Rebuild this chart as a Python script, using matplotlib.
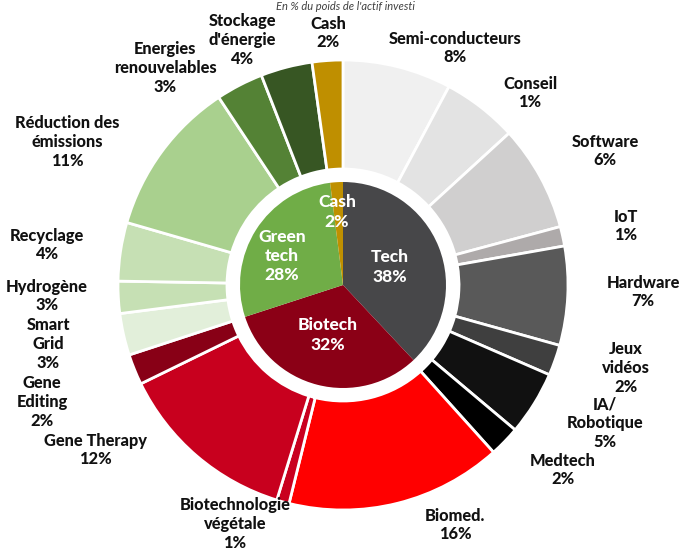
import matplotlib
matplotlib.use("Agg")
import matplotlib.pyplot as plt

# inner ring: sectors (clockwise from 12 o'clock)
sector_names = ["Tech", "Biotech", "Green\ntech", "Cash"]
sector_values = [38, 32, 28, 2]
sector_colors = ["#474749", "#8b0016", "#70ad47", "#bf9000"]

# outer ring: sub-themes, arc sizes (in %)
theme_names = [
    "Semi-conducteurs", "Conseil", "Software", "IoT", "Hardware", "Jeux\nvidéos",
    "IA/\nRobotique", "Medtech",
    "Biomed.", "Biotechnologie\nvégétale", "Gene Therapy", "Gene\nEditing",
    "Smart\nGrid", "Hydrogène", "Recyclage", "Réduction des\némissions",
    "Energies\nrenouvelables", "Stockage\nd'énergie", "Cash",
]
theme_sizes = [7.8, 5.4, 7.6, 1.4, 7.1, 2.2, 4.6, 2.2,
               15.5, 0.9, 13.0, 2.2,
               3.0, 2.3, 4.2, 11.2, 3.4, 3.7, 2.2]
# percentages as printed on the chart
theme_labels = ["8%", "1%", "6%", "1%", "7%", "2%", "5%", "2%",
                "16%", "1%", "12%", "2%",
                "3%", "3%", "4%", "11%", "3%", "4%", "2%"]
theme_colors = ["#f0f0f0", "#e3e3e3", "#d0cfcf", "#aeaaaa", "#595959", "#3f3f3f",
                "#111111", "#000000",
                "#ff0000", "#c9001f", "#c8001e", "#880016",
                "#e2efda", "#c6e0b4", "#c6e0b4", "#a9d08e", "#548235", "#375623",
                "#bf8f00"]

# label layout (pixel positions, y from top)
theme_pos = [(455, 48), (530, 93), (605, 151), (626, 226), (643, 292), (626, 368),
             (605, 423), (563, 470),
             (455, 525), (235, 524), (95, 450), (42, 402),
             (48, 344), (47, 296), (47, 245), (67, 142), (165, 68), (242, 40), (328, 33)]
sector_pos = [(390, 267), (328, 335), (282, 256), (337, 212)]

W, H = 683, 553
cx, cy = 343, H - 285
r_out, r_ring_in, r_in = 225, 116, 103

plt.rcParams["font.family"] = ["Lato", "DejaVu Sans"]

fig = plt.figure(figsize=(W / 100, H / 100), dpi=100)
ax = fig.add_axes([0, 0, 1, 1])

ax.pie(theme_sizes, radius=r_out, center=(cx, cy), startangle=90, counterclock=False,
       colors=theme_colors,
       wedgeprops=dict(width=r_out - r_ring_in, edgecolor="white", linewidth=2))
ax.pie(sector_values, radius=r_in, center=(cx, cy), startangle=90, counterclock=False,
       colors=sector_colors, wedgeprops=dict(linewidth=0))

for name, lab, (x, y) in zip(theme_names, theme_labels, theme_pos):
    ax.text(x, H - y, f"{name}\n{lab}", ha="center", va="center", fontsize=11.8,
            fontweight="black", color="#111111", linespacing=1.2)

for name, val, (x, y) in zip(sector_names, sector_values, sector_pos):
    ax.text(x, H - y, f"{name}\n{val}%", ha="center", va="center", fontsize=12.5,
            fontweight="black", color="white", linespacing=1.25)

fig.text(345 / W, 1 - 1 / H, "En % du poids de l'actif investi", ha="center", va="top",
         fontsize=8, style="italic", color="#404040")

ax.set_xlim(0, W)
ax.set_ylim(0, H)
ax.set_aspect("equal")
ax.axis("off")

fig.savefig("out.png", dpi=100)
